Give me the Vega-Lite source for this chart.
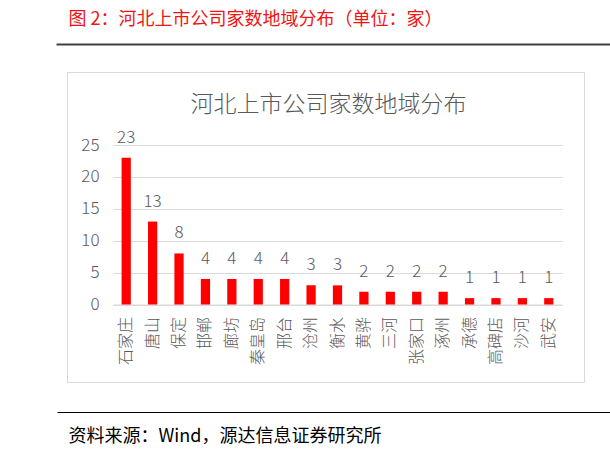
{
  "$schema": "https://vega.github.io/schema/vega-lite/v6.json",
  "width": 517,
  "height": 310,
  "autosize": {"type": "none"},
  "padding": {"left": 67, "top": 72, "right": 26, "bottom": 74},
  "background": "#ffffff",
  "config": {
    "font": "Noto Sans CJK SC",
    "view": {"stroke": "#d9d9d9", "strokeWidth": 1}
  },
  "data": {
    "values": [
      {"city": "石家庄", "n": 23},
      {"city": "唐山", "n": 13},
      {"city": "保定", "n": 8},
      {"city": "邯郸", "n": 4},
      {"city": "廊坊", "n": 4},
      {"city": "秦皇岛", "n": 4},
      {"city": "邢台", "n": 4},
      {"city": "沧州", "n": 3},
      {"city": "衡水", "n": 3},
      {"city": "黄骅", "n": 2},
      {"city": "三河", "n": 2},
      {"city": "张家口", "n": 2},
      {"city": "涿州", "n": 2},
      {"city": "承德", "n": 1},
      {"city": "高碑店", "n": 1},
      {"city": "沙河", "n": 1},
      {"city": "武安", "n": 1}
    ]
  },
  "resolve": {"scale": {"x": "independent"}, "axis": {"x": "independent"}},
  "layer": [
    {
      "encoding": {
        "x": {
          "field": "city",
          "type": "nominal",
          "sort": null,
          "scale": {"type": "band", "range": [46, 495], "paddingInner": 0.65, "paddingOuter": 0.325},
          "axis": {
            "orient": "bottom",
            "offset": -77.5,
            "title": null,
            "ticks": false,
            "domain": true,
            "domainColor": "#d9d9d9",
            "labelAngle": -90,
            "labelPadding": 12,
            "labelFontSize": 16,
            "labelFontWeight": 300,
            "labelColor": "#595959",
            "grid": false
          }
        },
        "y": {
          "field": "n",
          "type": "quantitative",
          "scale": {"domain": [0, 25], "range": [232.5, 73], "nice": false, "zero": true},
          "axis": {
            "orient": "left",
            "offset": -46,
            "values": [0, 5, 10, 15, 20, 25],
            "ticks": false,
            "domain": false,
            "grid": true,
            "gridColor": "#d9d9d9",
            "labelPadding": 14,
            "labelFontSize": 17,
            "labelFontWeight": 300,
            "labelColor": "#595959",
            "title": "河北上市公司家数地域分布",
            "titleAngle": 0,
            "titleX": 215,
            "titleY": 39,
            "titleAlign": "center",
            "titleBaseline": "alphabetic",
            "titleFontSize": 23,
            "titleFontWeight": 300,
            "titleColor": "#595959"
          }
        }
      },
      "layer": [
        {"mark": {"type": "bar", "color": "#ff0000"}},
        {
          "mark": {"type": "text", "baseline": "alphabetic", "dy": -15, "fontSize": 17, "fontWeight": 300, "color": "#595959"},
          "encoding": {"text": {"field": "n", "type": "quantitative"}}
        }
      ]
    },
    {
      "mark": {"type": "point", "opacity": 0},
      "encoding": {
        "x": {
          "datum": 0,
          "type": "quantitative",
          "scale": {"domain": [0, 1], "range": [-11, 543]},
          "axis": {
            "orient": "top",
            "offset": 28,
            "domain": true,
            "domainColor": "#404040",
            "domainWidth": 2,
            "ticks": false,
            "labels": false,
            "grid": false,
            "title": "图 2：河北上市公司家数地域分布（单位：家）",
            "titleX": 1,
            "titleY": -20,
            "titleAlign": "left",
            "titleAnchor": "start",
            "titleBaseline": "alphabetic",
            "titleFontSize": 18,
            "titleFontWeight": "normal",
            "titleColor": "#f01414"
          }
        }
      }
    },
    {
      "mark": {"type": "point", "opacity": 0},
      "encoding": {
        "x": {
          "datum": 0,
          "type": "quantitative",
          "scale": {"domain": [0, 1], "range": [-10, 543]},
          "axis": {
            "orient": "bottom",
            "offset": 30,
            "domain": true,
            "domainColor": "#000000",
            "domainWidth": 1,
            "ticks": false,
            "labels": false,
            "grid": false,
            "title": "资料来源：Wind，源达信息证券研究所",
            "titleX": 1,
            "titleY": 29,
            "titleAlign": "left",
            "titleAnchor": "start",
            "titleBaseline": "alphabetic",
            "titleFontSize": 18,
            "titleFontWeight": "normal",
            "titleColor": "#000000"
          }
        }
      }
    }
  ]
}
